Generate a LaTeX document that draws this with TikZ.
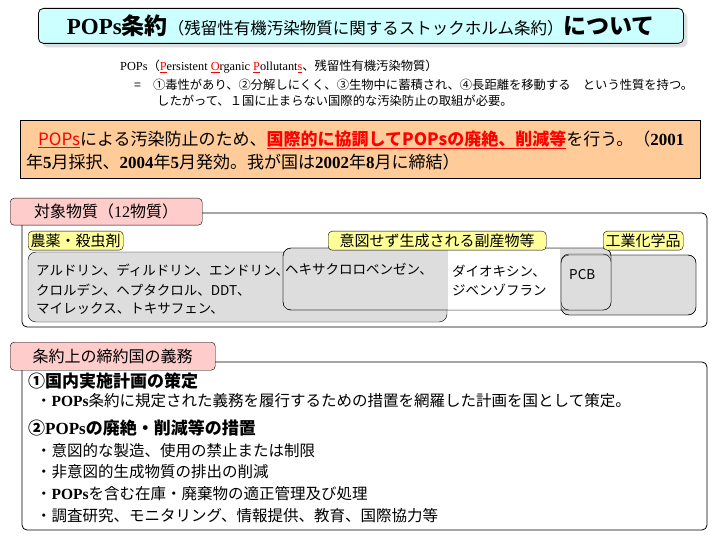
\documentclass[tikz,border=0pt]{standalone}
\usepackage{fontspec}
\setmainfont{Noto Sans CJK JP}
\newfontfamily\lat{Liberation Serif}
\usetikzlibrary{shadows}
\definecolor{cy}{HTML}{CCFFFF}
\definecolor{org}{HTML}{FFCC99}
\definecolor{pk}{HTML}{FFCCCC}
\definecolor{yl}{HTML}{FFFF99}
\definecolor{gr}{HTML}{DDDDDD}
\definecolor{rd}{HTML}{FF0000}
\tikzset{x=1pt,y=-1pt,
 rbox/.style={draw,rounded corners=5pt,line width=0.8pt},
 lab/.style={draw,rounded corners=4pt,fill=yl,inner sep=2.5pt,font=\fontsize{15}{15}\selectfont,anchor=north west},
 tx/.style={anchor=west,inner sep=0pt,font=\fontsize{15.5}{15.5}\selectfont},
 px/.style={anchor=west,inner sep=0pt,font=\fontsize{13.5}{13.5}\selectfont},
 sm/.style={anchor=west,inner sep=0pt,font=\fontsize{12.3}{12.3}\selectfont}}
\begin{document}
\begin{tikzpicture}
\useasboundingbox[fill=white] (0,0) rectangle (720,540);
% title
\node[rbox,fill=cy,drop shadow={shadow xshift=4pt,shadow yshift=-4pt,fill=gray!50},minimum width=645pt,minimum height=35pt,anchor=north west] (title) at (38,8) {};
\node (tt) at (title.center) {\lat\bfseries\fontsize{23}{23}\selectfont POPs\rmfamily\bfseries 条約\mdseries\fontsize{16.5}{16.5}\selectfont （残留性有機汚染物質に関するストックホルム条約）\bfseries\fontsize{23}{23}\selectfont について};
% definition
\node[sm] (d1) at (120,67) {{\lat POPs}（{\lat\textcolor{rd}{\underline{P}}ersistent \textcolor{rd}{\underline{O}}rganic \textcolor{rd}{\underline{P}}ollutant\textcolor{rd}{\underline{s}}}、残留性有機汚染物質）};
\node[sm] (d2) at (134,85) {=\hspace{12pt}①毒性があり、②分解しにくく、③生物中に蓄積され、④長距離を移動する　という性質を持つ。};
\node[sm] (d3) at (157,101) {したがって、１国に止まらない国際的な汚染防止の取組が必要。};
% orange box
\node[draw,fill=org,minimum width=680pt,minimum height=58pt,anchor=north west] (ob) at (20,120) {};
\node[tx,font=\fontsize{17}{17}\selectfont] (o1) at (38,140) {\textcolor{rd}{\underline{POPs}}による汚染防止のため、\textcolor{rd}{\bfseries\underline{国際的に協調してPOPsの廃絶、削減等}}を行う。（{\lat\bfseries 2001}};
\node[tx,font=\fontsize{17}{17}\selectfont] (o2) at (26,162) {年{\lat\bfseries 5}月採択、{\lat\bfseries 2004}年{\lat\bfseries 5}月発効。我が国は{\lat\bfseries 2002}年{\lat\bfseries 8}月に締結）};
% substances
\draw[rbox] (22,213) rectangle (707,327);
\node[draw,rounded corners=4pt,fill=pk,minimum width=192pt,minimum height=27pt,anchor=north west] (s) at (10,198) {};
\node[font=\fontsize{16}{16}\selectfont] at (s.center) {対象物質（{\lat 12}物質）};
\draw[rounded corners=8pt,fill=gr] (28,252) rectangle (447,322);
\draw[rounded corners=8pt,fill=gr] (561,255) rectangle (696,315);
\draw[rounded corners=8pt,fill=gr] (283,248) rectangle (611,310);
\fill[white] (448,249) rectangle (560,309.5);
\fill[gr] (284,253) rectangle (446,309);
\draw[rounded corners=8pt] (283,248) rectangle (611,310);
\draw[rounded corners=8pt,fill=gr] (561,254) -- (611,254) -- (611,310) -- (561,310) -- cycle;
\draw[rounded corners=8pt] (561,255) rectangle (696,315);
\node[lab] (l1) at (28,231) {農薬・殺虫剤};
\node[lab,minimum width=218pt] (l2) at (328,231) {意図せず生成される副産物等};
\node[lab] (l3) at (603,231) {工業化学品};
\node[px] (p1) at (36,270) {アルドリン、ディルドリン、エンドリン、};
\node[px] (p2) at (36,290) {クロルデン、ヘプタクロル、DDT、};
\node[px] (p3) at (36,309) {マイレックス、トキサフェン、};
\node[px] (h) at (285,269) {ヘキサクロロベンゼン、};
\node[px] (x1) at (452,271) {ダイオキシン、};
\node[px] (x2) at (452,290) {ジベンゾフラン};
\node[px] (pcb) at (569,275) {PCB};
% obligations
\draw[rbox] (22,362) rectangle (707,530);
\node[draw,rounded corners=4pt,fill=pk,minimum width=205pt,minimum height=28pt,anchor=north west] (ob2) at (10,342) {};
\node[font=\fontsize{16}{16}\selectfont] at (ob2.center) {条約上の締約国の義務};
\node[tx,font=\fontsize{17}{17}\selectfont\bfseries] (a1) at (28,381) {①国内実施計画の策定};
\node[tx] (a2) at (36,401) {・{\lat\bfseries POPs}条約に規定された義務を履行するための措置を網羅した計画を国として策定。};
\node[tx,font=\fontsize{17}{17}\selectfont\bfseries] (b1) at (28,428) {②{\lat POPs}の廃絶・削減等の措置};
\node[tx] (b2) at (36,451) {・意図的な製造、使用の禁止または制限};
\node[tx] (b3) at (36,472) {・非意図的生成物質の排出の削減};
\node[tx] (b4) at (36,494) {・{\lat\bfseries POPs}を含む在庫・廃棄物の適正管理及び処理};
\node[tx] (b5) at (36,516) {・調査研究、モニタリング、情報提供、教育、国際協力等};
\end{tikzpicture}
\end{document}
